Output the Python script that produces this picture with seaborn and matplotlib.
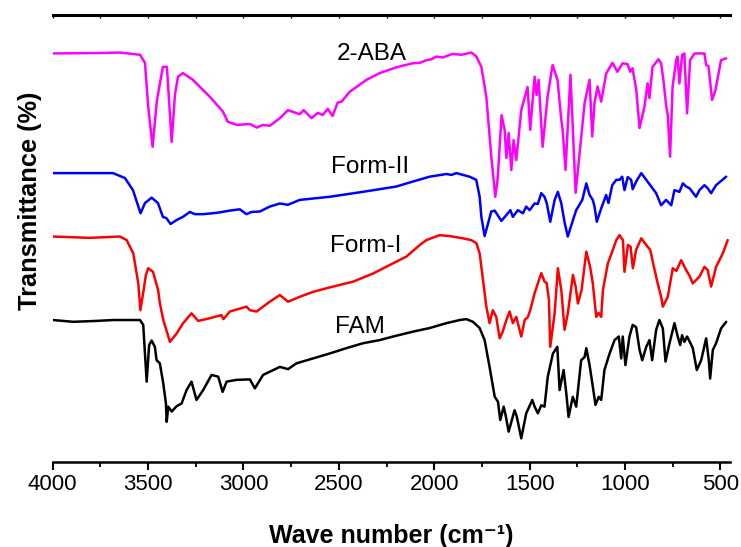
import matplotlib
matplotlib.use("Agg")
import matplotlib.pyplot as plt
from matplotlib.ticker import MultipleLocator
import numpy as np
import pandas as pd
import seaborn as sns

# FTIR spectra (wavenumber in cm-1, stacked transmittance in %)
aba_wn = [4000, 3752, 3647, 3542, 3516, 3499, 3476, 3453, 3422, 3401, 3376, 3359, 3343, 3317,
          3265, 3176, 3108, 3082, 3034, 2966, 2930, 2898, 2862, 2809, 2767, 2705, 2684, 2643,
          2610, 2584, 2558, 2533, 2506, 2486, 2443, 2355, 2286, 2198, 2113, 2076, 2041, 2015,
          1989, 1956, 1904, 1858, 1805, 1779, 1753, 1727, 1701, 1680, 1668, 1647, 1631, 1622,
          1610, 1596, 1584, 1570, 1544, 1511, 1497, 1474, 1464, 1453, 1432, 1406, 1380, 1354,
          1334, 1327, 1312, 1286, 1259, 1238, 1212, 1186, 1172, 1160, 1144, 1125, 1099, 1066,
          1040, 1013, 987, 973, 961, 941, 924, 898, 882, 872, 856, 825, 811, 799, 784, 776,
          764, 751, 732, 725, 715, 701, 689, 675, 659, 636, 584, 575, 563, 544, 526, 497, 470]
aba_t = [91.5, 91.6, 91.7, 91.2, 89.4, 79.6, 70.6, 81.1, 88.5, 88.5, 71.7, 82.2, 86.3, 87.1,
         85.6, 81.8, 78.5, 76.2, 75.5, 75.7, 74.9, 75.5, 75.3, 77.0, 78.8, 77.9, 78.8, 77.0,
         78.2, 77.7, 79.1, 77.5, 80.5, 80.7, 82.9, 85.6, 87.1, 88.4, 89.3, 89.4, 90.0, 90.2,
         90.8, 90.6, 91.4, 91.2, 91.7, 90.8, 88.5, 81.8, 68.4, 59.4, 63.2, 77.7, 74.4, 68.1,
         73.7, 65.4, 72.1, 67.6, 78.8, 84.0, 74.4, 86.3, 82.2, 85.6, 70.6, 81.8, 88.9, 85.6,
         76.6, 74.4, 65.4, 86.7, 60.3, 69.2, 80.4, 85.6, 72.9, 80.4, 84.1, 80.7, 87.0, 89.4,
         87.4, 89.3, 89.1, 87.4, 88.2, 83.3, 74.8, 79.6, 84.8, 81.5, 88.5, 90.2, 89.3, 85.6,
         79.6, 77.7, 68.4, 84.0, 90.0, 90.8, 84.8, 91.2, 91.5, 78.1, 90.0, 91.5, 91.5, 88.9,
         88.7, 81.1, 83.3, 90.0, 90.4]

form2_wn = [4000, 3684, 3621, 3579, 3539, 3516, 3481, 3448, 3422, 3403, 3382, 3350, 3317, 3281,
            3254, 3212, 3141, 3071, 3019, 2984, 2958, 2914, 2862, 2809, 2767, 2705, 2548, 2375,
            2198, 2113, 2024, 1936, 1910, 1884, 1815, 1780, 1762, 1753, 1736, 1720, 1701, 1683,
            1648, 1622, 1601, 1588, 1562, 1535, 1518, 1500, 1474, 1457, 1439, 1422, 1410, 1392,
            1369, 1352, 1334, 1317, 1300, 1273, 1256, 1224, 1203, 1186, 1169, 1160, 1148, 1125,
            1099, 1087, 1067, 1046, 1029, 1015, 1003, 986, 968, 960, 942, 915, 889, 863, 837,
            811, 785, 758, 741, 715, 697, 680, 662, 628, 610, 584, 567, 549, 523, 470]
form2_t = [64.7, 64.7, 63.6, 60.9, 55.7, 58.0, 59.2, 58.0, 54.9, 54.6, 53.3, 54.2, 54.9, 56.0,
           55.5, 55.5, 55.8, 56.3, 56.6, 55.5, 56.0, 56.1, 57.2, 57.9, 57.6, 58.7, 59.4, 60.5,
           61.7, 62.8, 63.9, 64.5, 64.3, 64.7, 63.9, 63.2, 59.4, 54.9, 50.6, 53.1, 56.1, 56.3,
           54.0, 55.3, 56.4, 54.9, 56.4, 55.7, 57.2, 56.4, 57.9, 57.8, 60.2, 59.4, 57.9, 53.8,
           58.7, 60.5, 57.9, 53.7, 50.5, 54.2, 56.4, 58.7, 62.4, 59.8, 58.7, 57.2, 53.8, 56.8,
           59.8, 58.0, 62.0, 63.2, 63.2, 63.9, 60.9, 63.8, 63.2, 61.1, 62.8, 64.7, 63.2, 61.7,
           60.2, 57.5, 58.7, 57.5, 60.9, 60.5, 62.4, 61.7, 61.3, 59.4, 60.9, 62.0, 61.3, 60.2,
           62.0, 63.9]

form1_wn = [4000, 3804, 3647, 3612, 3577, 3551, 3540, 3527, 3511, 3499, 3474, 3447, 3438, 3420,
            3385, 3350, 3316, 3272, 3237, 3176, 3115, 3105, 3071, 2984, 2966, 2931, 2862, 2809,
            2766, 2705, 2635, 2548, 2425, 2321, 2216, 2146, 2076, 2041, 1972, 1919, 1850, 1806,
            1779, 1762, 1753, 1727, 1710, 1693, 1675, 1657, 1642, 1622, 1605, 1588, 1570, 1544,
            1526, 1509, 1497, 1474, 1439, 1422, 1411, 1399, 1392, 1369, 1352, 1334, 1317, 1300,
            1273, 1259, 1247, 1228, 1203, 1183, 1169, 1151, 1139, 1125, 1116, 1090, 1064, 1046,
            1029, 1011, 1003, 985, 971, 959, 942, 915, 889, 868, 855, 829, 811, 802, 776, 750,
            731, 706, 680, 662, 645, 636, 610, 584, 567, 549, 523, 488, 462]
form1_t = [50.5, 50.2, 50.5, 49.7, 46.7, 40.0, 34.0, 37.4, 41.9, 43.4, 42.6, 38.5, 35.6, 31.8,
           26.9, 28.8, 31.1, 33.3, 31.6, 32.2, 32.9, 32.0, 33.7, 34.8, 34.0, 33.7, 35.9, 37.4,
           35.9, 37.0, 38.1, 39.1, 40.4, 42.2, 44.5, 46.0, 48.6, 49.7, 50.8, 50.6, 50.1, 49.7,
           49.0, 46.7, 43.7, 34.8, 31.1, 34.0, 32.5, 27.7, 29.1, 31.8, 33.7, 31.1, 32.5, 28.1,
           31.8, 32.5, 34.0, 37.8, 42.3, 40.4, 40.1, 36.3, 25.8, 33.3, 43.4, 38.5, 29.6, 33.3,
           41.9, 39.3, 35.5, 38.5, 47.1, 43.7, 40.0, 32.5, 33.4, 32.5, 38.5, 44.5, 47.5, 49.7,
           50.8, 49.7, 42.6, 48.6, 48.2, 43.4, 47.5, 50.1, 48.6, 47.5, 44.9, 40.0, 37.0, 34.8,
           37.0, 43.4, 42.8, 45.2, 43.0, 41.7, 40.0, 40.4, 41.5, 43.7, 43.0, 39.3, 43.7, 46.7,
           49.7]

fam_wn = [4000, 3892, 3769, 3682, 3542, 3525, 3507, 3494, 3481, 3464, 3455, 3438, 3420, 3406,
          3402, 3394, 3376, 3350, 3324, 3298, 3272, 3246, 3211, 3167, 3132, 3109, 3088, 3036,
          2966, 2940, 2897, 2809, 2766, 2722, 2635, 2548, 2460, 2373, 2286, 2216, 2111, 2024,
          1936, 1866, 1832, 1797, 1762, 1736, 1710, 1683, 1666, 1654, 1636, 1626, 1610, 1579,
          1567, 1544, 1518, 1486, 1474, 1457, 1439, 1422, 1405, 1378, 1355, 1343, 1322, 1308,
          1296, 1274, 1256, 1230, 1212, 1203, 1186, 1169, 1155, 1138, 1125, 1108, 1081, 1055,
          1033, 1020, 1012, 998, 977, 960, 942, 924, 910, 889, 872, 858, 837, 820, 802, 788,
          767, 741, 724, 711, 701, 689, 675, 657, 645, 624, 601, 575, 561, 554, 540, 523, 497,
          470]
fam_t = [31.8, 31.4, 31.6, 31.8, 31.8, 30.7, 18.0, 26.2, 27.2, 25.8, 22.8, 22.1, 17.6, 13.1,
         9.0, 12.4, 11.3, 12.5, 13.1, 16.1, 18.0, 13.9, 16.1, 19.5, 19.1, 15.7, 18.0, 18.4,
         18.5, 16.5, 19.5, 21.3, 20.8, 22.1, 23.2, 24.3, 25.5, 26.6, 27.3, 28.1, 29.2, 30.0,
         31.1, 31.8, 32.0, 31.4, 30.0, 27.3, 21.3, 14.6, 13.5, 9.4, 12.4, 10.5, 6.8, 11.6,
         10.1, 5.3, 10.9, 13.9, 12.4, 10.9, 12.7, 12.4, 19.1, 24.3, 25.8, 16.1, 20.6, 15.4,
         10.1, 14.6, 12.4, 22.8, 23.5, 25.5, 21.7, 16.9, 12.8, 14.6, 13.9, 20.6, 24.3, 27.3,
         28.1, 23.2, 28.1, 21.7, 28.1, 30.7, 30.2, 25.1, 22.8, 25.8, 27.3, 22.8, 29.6, 31.8,
         29.9, 22.5, 26.6, 31.1, 28.1, 26.2, 28.4, 26.9, 28.1, 26.6, 25.5, 20.6, 22.8, 27.7,
         22.8, 18.7, 25.1, 26.6, 29.9, 31.4]

sample_names = ["2-ABA", "Form-II", "Form-I", "FAM"]
sample_colors = ["#FF00FF", "#0000FF", "#FF0000", "#000000"]
# label anchor (wavenumber, transmittance) for each trace
label_wn = [2329, 2338, 2361, 2390]
label_t = [91.3, 66.1, 48.4, 30.3]

frames = []
for name, wn, t in zip(sample_names,
                       [aba_wn, form2_wn, form1_wn, fam_wn],
                       [aba_t, form2_t, form1_t, fam_t]):
    frames.append(pd.DataFrame({"wavenumber": wn, "transmittance": t, "sample": name}))
spectra = pd.concat(frames, ignore_index=True)

sns.set_theme(style="white")
plt.rcParams["font.family"] = ["Liberation Sans", "DejaVu Sans"]
plt.rcParams["text.color"] = "black"
plt.rcParams["axes.labelcolor"] = "black"
plt.rcParams["xtick.color"] = "black"

fig = plt.figure(figsize=(7.41, 5.47), dpi=100)
ax = fig.add_axes([52.6 / 741, 1 - 462 / 547, (730 - 52.6) / 741, (462 - 15.5) / 547])

sns.lineplot(data=spectra, x="wavenumber", y="transmittance", hue="sample",
             hue_order=sample_names, palette=sample_colors, estimator=None,
             sort=False, linewidth=1.8, legend=False, ax=ax)

for name, x, y in zip(sample_names, label_wn, label_t):
    ax.text(x, y, name, ha="center", va="center", fontsize=17.5, color="black")

ax.set_xlim(4000, 450)
ax.set_ylim(0, 100)
ax.set_yticks([])
ax.xaxis.set_major_locator(MultipleLocator(500))
ax.xaxis.set_minor_locator(MultipleLocator(250))
ax.tick_params(axis="x", which="major", direction="out", length=6, width=1.5,
               labelsize=16, pad=3, colors="black", bottom=True)
ax.tick_params(axis="x", which="minor", direction="out", length=3.5, width=1.3, bottom=True)

for side in ["left", "right", "top"]:
    ax.spines[side].set_visible(False)
ax.spines["bottom"].set_linewidth(1.8)
ax.spines["bottom"].set_color("black")

top = ax.secondary_xaxis("top")
top.xaxis.set_major_locator(MultipleLocator(500))
top.xaxis.set_minor_locator(MultipleLocator(250))
top.tick_params(axis="x", which="both", direction="in", length=2.5, width=1.0,
                labeltop=False, top=True, colors="black")
top.spines["top"].set_linewidth(2.2)
top.spines["top"].set_color("black")

ax.set_xlabel("Wave number (cm⁻¹)", fontsize=18, fontweight="bold", color="black")
ax.xaxis.set_label_coords(0.5, -0.138)
ax.set_ylabel("Transmittance (%)", fontsize=18.3, fontweight="bold", color="black")
ax.yaxis.set_label_coords(-0.016, 0.586)

fig.savefig("out.png", dpi=100)
